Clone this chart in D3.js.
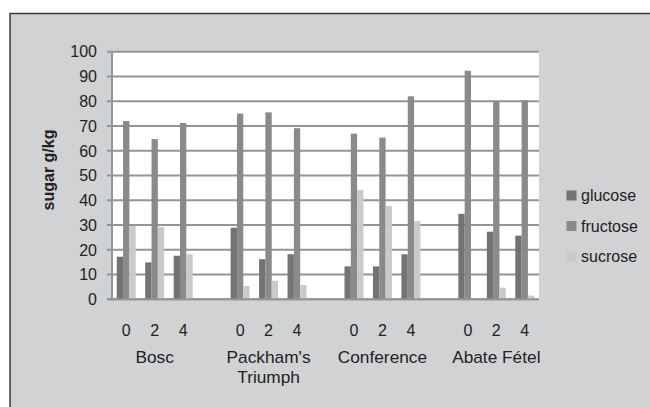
<!DOCTYPE html>
<html>
<head>
<meta charset="utf-8">
<script src="https://cdn.jsdelivr.net/npm/d3@7"></script>
<style>
  html, body { margin: 0; padding: 0; background: #ffffff; }
  svg { display: block; font-family: "Liberation Sans", Arial, sans-serif; }
</style>
</head>
<body>
<svg id="chart" width="650" height="407"></svg>
<script>
// ---- data ----
const groups = ["Bosc", "Packham's Triumph", "Conference", "Abate Fétel"];
const times = ["0", "2", "4"];
const seriesNames = ["glucose", "fructose", "sucrose"];
const glucose  = [17.2, 14.9, 17.6, 28.9, 16.2, 18.2, 13.3, 13.3, 18.2, 34.5, 27.3, 25.7];
const fructose = [72.0, 64.7, 71.2, 75.0, 75.5, 69.1, 66.9, 65.3, 82.0, 92.3, 80.1, 80.4];
const sucrose  = [29.6, 29.1, 18.2, 5.4, 7.5, 5.8, 44.1, 37.7, 31.6, 0, 4.7, 1.5];
const yTicks = [0, 10, 20, 30, 40, 50, 60, 70, 80, 90, 100];
const colors = ["#727375", "#898a8c", "#c9cacc"];

(function () {
const svg = d3.select("#chart");

// background + frame
svg.append("rect").attr("x", 0).attr("y", 0).attr("width", 650).attr("height", 407).attr("fill", "#ffffff");
svg.append("rect").attr("x", 10).attr("y", 13.5).attr("width", 660).attr("height", 420)
  .attr("fill", "#d1d2d4").attr("stroke", "#3a3a3a").attr("stroke-width", 1.5);

const pL = 112, pR = 539, pT = 51.7, pB = 299.3;

// slots: 4 groups x 3 times + 3 empty gaps = 15 slots
const rows = [];
groups.forEach((g, gi) => times.forEach((t, ti) => {
  const i = gi * 3 + ti;
  rows.push({group: g, gi, time: t, ti, slot: gi * 4 + ti, values: [glucose[i], fructose[i], sucrose[i]]});
}));

const x = d3.scaleBand().domain(d3.range(15)).range([pL, pR]).padding(0);
const xs = d3.scaleBand().domain(seriesNames)
  .range([x.bandwidth() * 0.167, x.bandwidth() * 0.833]).padding(0);
const y = d3.scaleLinear().domain([0, 100]).range([pB, pT]);

// plot area
svg.append("rect").attr("x", pL).attr("y", pT).attr("width", pR - pL).attr("height", pB - pT)
  .attr("fill", "#ffffff");

// gridlines (with tick stubs)
svg.append("g").selectAll("line").data(yTicks).join("line")
  .attr("x1", pL - 5).attr("x2", pR)
  .attr("y1", d => y(d)).attr("y2", d => y(d))
  .attr("stroke", "#939496").attr("stroke-width", 2);

// y axis line
svg.append("line").attr("x1", pL).attr("x2", pL).attr("y1", pT).attr("y2", pB + 1)
  .attr("stroke", "#939496").attr("stroke-width", 2);

// y tick labels
svg.append("g").selectAll("text").data(yTicks).join("text")
  .attr("x", 97).attr("y", d => y(d)).attr("dy", "0.36em")
  .attr("text-anchor", "end").attr("font-size", 16).attr("fill", "#222")
  .text(d => d);

// bars
const bars = svg.append("g");
rows.forEach(r => {
  bars.selectAll(null).data(r.values.map((v, k) => ({v, k}))).join("rect")
    .attr("x", d => x(r.slot) + xs(seriesNames[d.k]))
    .attr("width", xs.bandwidth())
    .attr("y", d => y(d.v))
    .attr("height", d => y(0) - y(d.v))
    .attr("fill", d => colors[d.k]);
});

// baseline redraw
svg.append("line").attr("x1", pL - 5).attr("x2", pR).attr("y1", y(0)).attr("y2", y(0))
  .attr("stroke", "#939496").attr("stroke-width", 2);

// x tick labels (times)
svg.append("g").selectAll("text").data(rows).join("text")
  .attr("x", d => x(d.slot) + x.bandwidth() / 2).attr("y", 335.5)
  .attr("text-anchor", "middle").attr("font-size", 16).attr("fill", "#222")
  .text(d => d.time);

// group labels
const gl = svg.append("g");
groups.forEach((g, gi) => {
  const cx = x(gi * 4 + 1) + x.bandwidth() / 2;
  const lines = g === "Packham's Triumph" ? ["Packham's", "Triumph"] : [g];
  lines.forEach((ln, li) => {
    gl.append("text")
      .attr("transform", `translate(${cx},${362.5 + li * 20}) scale(1.08,1)`)
      .attr("text-anchor", "middle").attr("font-size", 16).attr("fill", "#222").text(ln);
  });
});

// y axis title
svg.append("text").attr("transform", "translate(54,170) rotate(-90)")
  .attr("text-anchor", "middle").attr("font-size", 16).attr("font-weight", "bold").attr("fill", "#222")
  .text("sugar g/kg");

// legend
const legY = [195.5, 226, 256.5];
const leg = svg.append("g");
seriesNames.forEach((s, k) => {
  leg.append("rect").attr("x", 566.5).attr("y", legY[k] - 5).attr("width", 10).attr("height", 10).attr("fill", colors[k]);
  leg.append("text").attr("x", 581).attr("y", legY[k]).attr("dy", "0.36em")
    .attr("font-size", 16).attr("fill", "#222").text(s);
});
})();
</script>
</body>
</html>
